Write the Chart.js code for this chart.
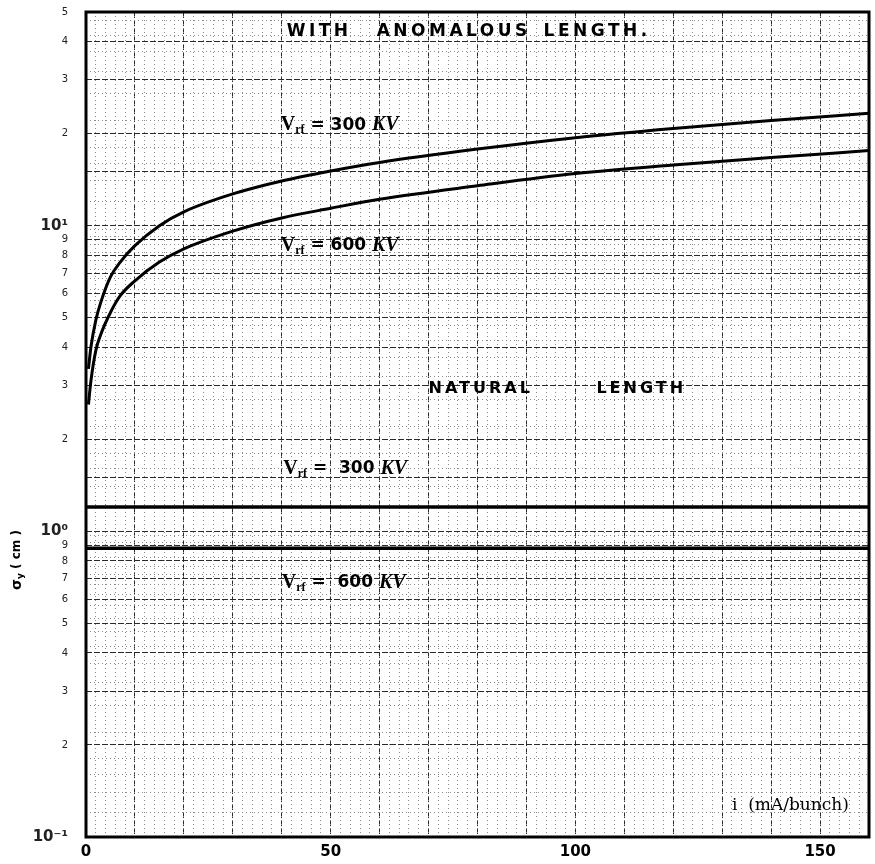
<!DOCTYPE html>
<html>
<head>
<meta charset="utf-8">
<script src="https://cdn.jsdelivr.net/npm/chart.js@4.4.1/dist/chart.umd.min.js"></script>
<style>
    html, body { margin: 0; padding: 0; background: #fff; }
    #wrap { width: 875px; height: 864px; }
</style>
</head>
<body>
<div id="wrap"><canvas id="chart" width="875" height="864"></canvas></div>
<script>
const currentMa = [0.5, 1, 2, 3, 5, 7, 10, 15, 20, 30, 40, 50, 60, 80, 100, 120, 140, 160];
// sigma_y (cm) with anomalous lengthening
const sigmaAnom300 = [3.4, 4.0, 4.9, 5.6, 6.8, 7.6, 8.6, 10.0, 11.1, 12.7, 14.0, 15.1, 16.1, 17.8, 19.4, 20.8, 22.1, 23.3];
const sigmaAnom600 = [2.6, 3.1, 3.9, 4.4, 5.2, 5.9, 6.6, 7.6, 8.4, 9.6, 10.6, 11.4, 12.2, 13.5, 14.8, 15.8, 16.7, 17.6];
// natural length, flat in current
const naturalCurrent = [0, 160];
const sigmaNat300 = [1.2, 1.2];
const sigmaNat600 = [0.88, 0.88];
// axis ticks
const xLabelTicks = [0, 50, 100, 150];
const decadeLabels = { "-1": "10\u207B\u00B9", "0": "10\u2070", "1": "10\u00B9" };

const toPoints = (xs, ys) => xs.map((x, i) => ({ x, y: ys[i] }));

function logParts(v) {
    const exp = Math.floor(Math.log10(v) + 1e-9);
    const sig = Math.round(v / Math.pow(10, exp) * 100) / 100;
    return { exp, sig };
}

// finer dotted lines of the log paper
function minorLogTicks(min, max) {
    const out = [];
    for (let e = -1; e <= 1; e++) {
        const base = Math.pow(10, e);
        for (let m = 1; m < 10; m += (m < 2 ? 0.2 : 0.5)) {
            const mm = Math.round(m * 10) / 10;
            if (Math.abs(mm - Math.round(mm)) < 1e-6) continue;
            const v = mm * base;
            if (v > min && v < max) out.push({ value: v });
        }
    }
    return out;
}

const lineStyle = (data, width) => ({
    data,
    borderColor: "#000",
    borderWidth: width,
    pointRadius: 0,
    tension: 0.35,
    cubicInterpolationMode: "monotone",
    fill: false,
});

const annotationPlugin = {
    id: "paperText",
    afterDatasetsDraw(chart) {
        const { ctx, chartArea, scales: { x, y } } = chart;
        const px = v => x.getPixelForValue(v);
        const py = v => y.getPixelForValue(v);

        ctx.save();
        ctx.fillStyle = "#000";
        ctx.textBaseline = "middle";
        ctx.textAlign = "left";

        // headings
        ctx.font = "bold 17px 'DejaVu Sans'";
        ctx.letterSpacing = "3.5px";
        [["WITH", 41], ["ANOMALOUS", 59.4], ["LENGTH.", 93.5]].forEach(([t, xv]) => ctx.fillText(t, px(xv), py(43)));
        ctx.font = "bold 16px 'DejaVu Sans'";
        ctx.letterSpacing = "3px";
        [["NATURAL", 70], ["LENGTH", 104.3]].forEach(([t, xv]) => ctx.fillText(t, px(xv), py(2.92)));
        ctx.letterSpacing = "0px";

        this._vrf(ctx, px(39.8), py(21.3), "300", " = ");
        this._vrf(ctx, px(39.8), py(8.6), "600", " = ");
        this._vrf(ctx, px(40.3), py(1.6), "300", " =  ");
        this._vrf(ctx, px(40.0), py(0.68), "600", " =  ");

        // x axis title inside the plot
        ctx.font = "17px 'DejaVu Serif'";
        ctx.fillText("i  (mA/bunch)", px(132), py(0.127));

        // y axis title
        ctx.save();
        ctx.translate(17, 560);
        ctx.rotate(-Math.PI / 2);
        ctx.font = "bold 14px 'DejaVu Sans'";
        const s1 = "\u03C3";
        const w1 = ctx.measureText(s1).width;
        ctx.font = "bold 9px 'DejaVu Sans'";
        const w2 = ctx.measureText("y").width;
        ctx.font = "bold 12px 'DejaVu Sans'";
        const s3 = " ( cm )";
        const w3 = ctx.measureText(s3).width;
        let cx = -(w1 + w2 + w3) / 2;
        ctx.font = "bold 14px 'DejaVu Sans'";
        ctx.fillText(s1, cx, 0); cx += w1;
        ctx.font = "bold 9px 'DejaVu Sans'";
        ctx.fillText("y", cx, 4); cx += w2;
        ctx.font = "bold 12px 'DejaVu Sans'";
        ctx.fillText(s3, cx, 0);
        ctx.restore();

        // heavy frame of the paper
        ctx.strokeStyle = "#000";
        ctx.lineWidth = 3;
        ctx.strokeRect(chartArea.left, chartArea.top, chartArea.right - chartArea.left, chartArea.bottom - chartArea.top);
        ctx.restore();
    },

    _vrf(ctx, x0, y0, kv, eq) {
        let cx = x0;
        ctx.font = "bold 20px 'Liberation Serif'";
        ctx.fillText("V", cx, y0); cx += ctx.measureText("V").width;
        ctx.font = "bold 12px 'Liberation Serif'";
        ctx.fillText("rf", cx, y0 + 5); cx += ctx.measureText("rf").width;
        ctx.font = "bold 17px 'DejaVu Sans'";
        const mid = eq + kv + " ";
        ctx.fillText(mid, cx, y0); cx += ctx.measureText(mid).width;
        ctx.font = "bold italic 20px 'Liberation Serif'";
        ctx.fillText("KV", cx, y0);
    },
};

const ctx = document.getElementById("chart");

new Chart(ctx, {
    type: "line",
    data: {
        datasets: [
            lineStyle(toPoints(currentMa, sigmaAnom300), 3),
            lineStyle(toPoints(currentMa, sigmaAnom600), 3),
            lineStyle(toPoints(naturalCurrent, sigmaNat300), 3.5),
            lineStyle(toPoints(naturalCurrent, sigmaNat600), 3.5),
        ],
    },
    options: {
        responsive: false,
        animation: false,
        layout: { padding: { top: 12, right: 6, left: 0, bottom: 0 } },
        plugins: { legend: { display: false }, tooltip: { enabled: false } },
        scales: {
            x: {
                type: "linear",
                min: 0,
                max: 160,
                position: "bottom",
                afterFit: s => { s.height = 27; s.paddingLeft = 0; s.paddingRight = 0; },
                ticks: {
                    stepSize: 10,
                    autoSkip: false,
                    maxRotation: 0,
                    padding: 6,
                    color: "#000",
                    font: { family: "'DejaVu Sans'", size: 15, weight: "bold" },
                    callback: v => xLabelTicks.includes(v) ? String(v) : "",
                },
                grid: { color: "#2a2a2a", lineWidth: 1, drawTicks: false },
                border: { display: false, dash: [6, 2] },
            },
            x2: {
                type: "linear",
                min: 0,
                max: 160,
                position: "bottom",
                afterFit: s => { s.height = 0; s.paddingLeft = 0; s.paddingRight = 0; },
                ticks: { display: false, stepSize: 2 },
                grid: { color: "#8a8a8a", lineWidth: 1, drawTicks: false },
                border: { display: false, dash: [1, 3] },
            },
            y: {
                type: "logarithmic",
                min: 0.1,
                max: 50,
                position: "left",
                afterFit: s => { s.width = 86; s.paddingTop = 0; s.paddingBottom = 0; },
                ticks: {
                    autoSkip: false,
                    padding: 18,
                    color: "#222",
                    font: c => {
                        const { sig } = logParts(c.tick.value);
                        return sig === 1 ? { family: "'DejaVu Sans'", size: 15, weight: "bold" } : { family: "'DejaVu Sans'", size: 10 };
                    },
                    callback: v => {
                        const { exp, sig } = logParts(v);
                        if (sig === 1) return decadeLabels[String(exp)] || "";
                        return Number.isInteger(sig) ? String(sig) : "";
                    },
                },
                grid: { color: "#2a2a2a", lineWidth: 1, drawTicks: false },
                border: { display: false, dash: [6, 2] },
            },
            y2: {
                type: "logarithmic",
                min: 0.1,
                max: 50,
                position: "left",
                afterFit: s => { s.width = 0; s.paddingTop = 0; s.paddingBottom = 0; },
                afterBuildTicks: s => { s.ticks = minorLogTicks(0.1, 50); },
                ticks: { display: false },
                grid: { color: "#8a8a8a", lineWidth: 1, drawTicks: false },
                border: { display: false, dash: [1, 3] },
            },
        },
    },
    plugins: [annotationPlugin],
});
</script>
</body>
</html>
